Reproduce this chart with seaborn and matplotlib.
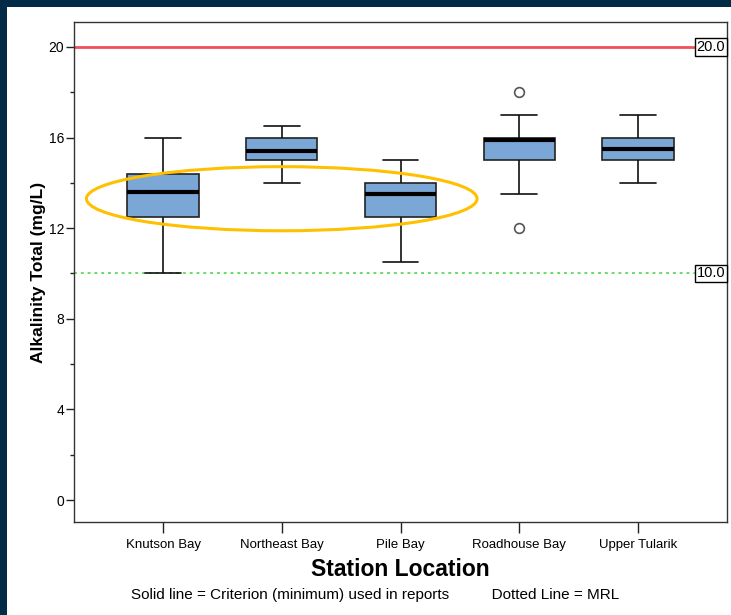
import numpy as np
import pandas as pd
import matplotlib
matplotlib.use("Agg")
import matplotlib.pyplot as plt
from matplotlib.patches import Ellipse, Rectangle
import seaborn as sns

# ---- data ----
stations = ["Knutson Bay", "Northeast Bay", "Pile Bay", "Roadhouse Bay", "Upper Tularik"]
knutson = [10.0, 12.5, 13.6, 14.4, 16.0]
northeast = [14.0, 15.0, 15.4, 16.0, 16.5]
pile = [10.5, 12.5, 13.5, 14.0, 15.0]
roadhouse = [12.0, 13.5, 15.0, 15.0, 15.9, 16.0, 16.0, 17.0, 18.0]
upper_tularik = [14.0, 15.0, 15.5, 16.0, 17.0]
criterion = 20.0
mrl = 10.0
yticks_major = [0, 4, 8, 12, 16, 20]
yticks_minor = [2, 6, 10, 14, 18]

series = [knutson, northeast, pile, roadhouse, upper_tularik]
df = pd.DataFrame({
    "Station": np.concatenate([[s] * len(v) for s, v in zip(stations, series)]),
    "Alkalinity": np.concatenate(series),
})

sns.set_style("white")
plt.rcParams["font.family"] = ["Liberation Sans", "DejaVu Sans"]
plt.rcParams["text.color"] = "black"
plt.rcParams["axes.labelcolor"] = "black"
plt.rcParams["xtick.color"] = "#222222"
plt.rcParams["ytick.color"] = "#222222"
plt.rcParams["xtick.labelcolor"] = "black"
plt.rcParams["ytick.labelcolor"] = "black"

W, H, DPI = 731, 615, 100
fig = plt.figure(figsize=(W / DPI, H / DPI), dpi=DPI, facecolor="#022B47")
# white panel inside the navy frame
fig.patches.append(Rectangle((7 / W, 0), 1 - 7 / W, 1 - 7 / H, transform=fig.transFigure,
                             facecolor="white", edgecolor="none", zorder=-5))

ax = fig.add_axes([74 / W, 1 - 522 / H, (727 - 74) / W, (522 - 22) / H])
ax.set_zorder(1)
ax.set_facecolor("white")

sns.boxplot(data=df, x="Station", y="Alkalinity", order=stations, ax=ax,
            width=0.6, color="#7BA7D6", saturation=1, linecolor="#222222", linewidth=1.2,
            fliersize=7,
            medianprops=dict(color="black", linewidth=3),
            flierprops=dict(marker="o", markerfacecolor="white", markeredgecolor="#555555",
                            markeredgewidth=1.2),
            capprops=dict(color="#111111", linewidth=1.2),
            whiskerprops=dict(color="#111111", linewidth=1.2),
            zorder=3)

ax.set_xlim(-0.75, 4.75)
ax.set_ylim(-0.97, 21.1)

# reference lines
ax.axhline(criterion, color="#F0505A", linewidth=2, zorder=2)
ax.axhline(mrl, color="#66DD66", linewidth=1.4, linestyle=(0, (1.5, 2)), zorder=2)
for val in (criterion, mrl):
    ax.text(4.735, val, f"{val:.1f}", ha="right", va="center", fontsize=10.5, zorder=5,
            bbox=dict(boxstyle="square,pad=0.12", facecolor="white", edgecolor="black", linewidth=1))

# highlight ellipse
ax.add_patch(Ellipse((1.0, 13.3), 3.29, 2.83, fill=False, edgecolor="#FFC000", linewidth=2.2, zorder=6))

# ticks
ax.set_yticks(yticks_major)
ax.set_yticks(yticks_minor, minor=True)
ax.tick_params(axis="y", which="major", left=True, length=6, width=1, direction="out",
               labelsize=10, pad=1)
ax.tick_params(axis="y", which="minor", left=True, length=3, width=1, direction="out")
ax.tick_params(axis="x", bottom=True, length=8, width=1, direction="out", labelsize=9.5,
               pad=4)

for s in ax.spines.values():
    s.set_visible(True)
    s.set_color("#333333")
    s.set_linewidth(1)

ax.set_ylabel("Alkalinity Total (mg/L)", fontsize=12.5, fontweight="bold", labelpad=2)
ax.set_xlabel("Station Location", fontsize=16.5, fontweight="bold", labelpad=5)

fig.text(375 / W, 1 - 595 / H,
         "Solid line = Criterion (minimum) used in reports          Dotted Line = MRL",
         ha="center", va="center", fontsize=11)

fig.savefig("out.png", dpi=DPI, facecolor=fig.get_facecolor())
